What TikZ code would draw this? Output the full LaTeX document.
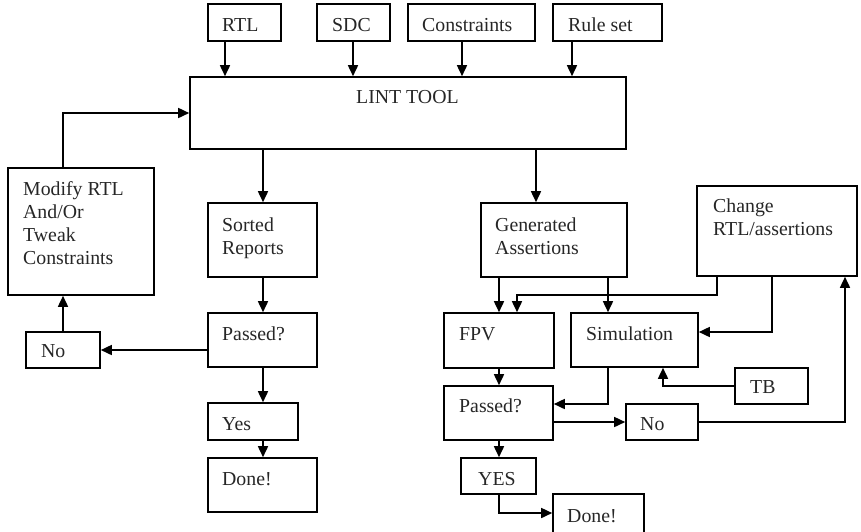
\documentclass[tikz,border=0pt]{standalone}
\usepackage{fontspec}
\setmainfont{Liberation Serif}
\usetikzlibrary{arrows.meta,fit}

\tikzset{
  box/.style={draw, line width=1.6pt, rectangle, inner sep=0pt},
  % labels are placed by the baseline of their last line
  lbl/.style={anchor=base west, inner sep=0pt, align=left,
    font=\fontsize{19.8}{22.7}\selectfont, text=black!85},
  arr/.style={line width=1.6pt, -{Triangle[length=11pt,width=10pt]}},
  wire/.style={line width=1.6pt}
}

\begin{document}
\begin{tikzpicture}[x=1pt, y=-1pt]
\useasboundingbox (0,0) rectangle (861,531);
\clip (0,0) rectangle (861,531);

% ---------- inputs and lint tool ----------
\node[box, fit={(208,4) (281,41)}]   (rtl)  {};
\node[box, fit={(317,4) (390,41)}]   (sdc)  {};
\node[box, fit={(408,4) (535,41)}]   (cons) {};
\node[box, fit={(553,4) (662,41)}]   (rule) {};
\node[box, fit={(190,77) (626,149)}] (lint) {};

% ---------- lint flow (left) ----------
\node[box, fit={(8,168) (154,295)}]   (modify) {};
\node[box, fit={(208,203) (317,277)}] (sorted) {};
\node[box, fit={(208,313) (317,367)}] (passA)  {};
\node[box, fit={(26,332) (100,368)}]  (noA)    {};
\node[box, fit={(208,403) (298,440)}] (yesA)   {};
\node[box, fit={(208,458) (317,512)}] (doneA)  {};

% ---------- assertion flow (right) ----------
\node[box, fit={(481,203) (627,277)}] (gen)    {};
\node[box, fit={(697,186) (857,276)}] (change) {};
\node[box, fit={(444,313) (554,368)}] (fpv)    {};
\node[box, fit={(571,313) (698,367)}] (sim)    {};
\node[box, fit={(735,368) (808,404)}] (tb)     {};
\node[box, fit={(444,386) (553,440)}] (passB)  {};
\node[box, fit={(626,404) (698,440)}] (noB)    {};
\node[box, fit={(461,458) (536,494)}] (yesB)   {};
\node[box, fit={(553,494) (644,545)}] (doneB)  {};

% ---------- labels ----------
\node[lbl] (l-rtl)  at (222,31)  {RTL};
\node[lbl] (l-sdc)  at (332,31)  {SDC};
\node[lbl] (l-cons) at (422,31)  {Constraints};
\node[lbl] (l-rule) at (568,31)  {Rule set};
\node[lbl] (l-lint) at (356,103) {LINT TOOL};
\node[lbl] (l-mod)  at (23,264)  {Modify RTL\\And/Or\\Tweak\\Constraints};
\node[lbl] (l-sort) at (222,254) {Sorted\\Reports};
\node[lbl] (l-pA)   at (222,340) {Passed?};
\node[lbl] (l-nA)   at (41,357)  {No};
\node[lbl] (l-yA)   at (222,430) {Yes};
\node[lbl] (l-dA)   at (222,485) {Done!};
\node[lbl] (l-gen)  at (495,254) {Generated\\Assertions};
\node[lbl] (l-chg)  at (713,235) {Change\\RTL/assertions};
\node[lbl] (l-fpv)  at (459,340) {FPV};
\node[lbl] (l-sim)  at (586,340) {Simulation};
\node[lbl] (l-tb)   at (750,393) {TB};
\node[lbl] (l-pB)   at (459,412) {Passed?};
\node[lbl] (l-nB)   at (640,430) {No};
\node[lbl] (l-yB)   at (478,485) {YES};
\node[lbl] (l-dB)   at (567,522) {Done!};

% ---------- routing columns and bends ----------
\coordinate (cR)  at (225,0);
\coordinate (cS)  at (353,0);
\coordinate (cC)  at (462,0);
\coordinate (cU)  at (572,0);
\coordinate (cM)  at (63,113);
\coordinate (cL)  at (263,0);
\coordinate (cG)  at (536,0);
\coordinate (cF)  at (499,0);
\coordinate (cV)  at (608,0);
\coordinate (k1)  at (717,295);
\coordinate (k2)  at (517,295);
\coordinate (k3)  at (772,332);
\coordinate (k4)  at (663,386);
\coordinate (k5)  at (608,404);
\coordinate (k6)  at (845,0);
\coordinate (k7)  at (0,513);

% inputs into lint tool
\draw[arr] (rtl.south -| cR)  -- (lint.north -| cR);
\draw[arr] (sdc.south -| cS)  -- (lint.north -| cS);
\draw[arr] (cons.south -| cC) -- (lint.north -| cC);
\draw[arr] (rule.south -| cU) -- (lint.north -| cU);

% lint report loop
\draw[arr] (modify.north -| cM) -- (cM) -- (lint.west |- cM);
\draw[arr] (lint.south -| cL)   -- (sorted.north -| cL);
\draw[arr] (sorted.south -| cL) -- (passA.north -| cL);
\draw[arr] (passA.west |- noA)  -- (noA.east);
\draw[arr] (noA.north -| cM)    -- (modify.south -| cM);
\draw[arr] (passA.south -| cL)  -- (yesA.north -| cL);
\draw[arr] (yesA.south -| cL)   -- (doneA.north -| cL);

% assertion verification loop
\draw[arr] (lint.south -| cG)   -- (gen.north -| cG);
\draw[arr] (gen.south -| cF)    -- (fpv.north -| cF);
\draw[arr] (gen.south -| cV)    -- (sim.north -| cV);
\draw[arr] (change.south -| k1) -- (k1) -- (k2) -- (fpv.north -| k2);
\draw[arr] (change.south -| k3) -- (k3) -- (sim.east |- k3);
\draw[arr] (tb.west) -- (k4) -- (sim.south -| k4);
\draw[arr] (fpv.south -| cF)    -- (passB.north -| cF);
\draw[arr] (sim.south -| k5)    -- (k5) -- (passB.east |- k5);
\draw[arr] (passB.east |- noB)  -- (noB.west);
\draw[arr] (noB.east) -| (change.south -| k6);
\draw[arr] (passB.south -| cF)  -- (yesB.north -| cF);
\draw[arr] (yesB.south -| cF)   |- (doneB.west |- k7);
\end{tikzpicture}
\end{document}
